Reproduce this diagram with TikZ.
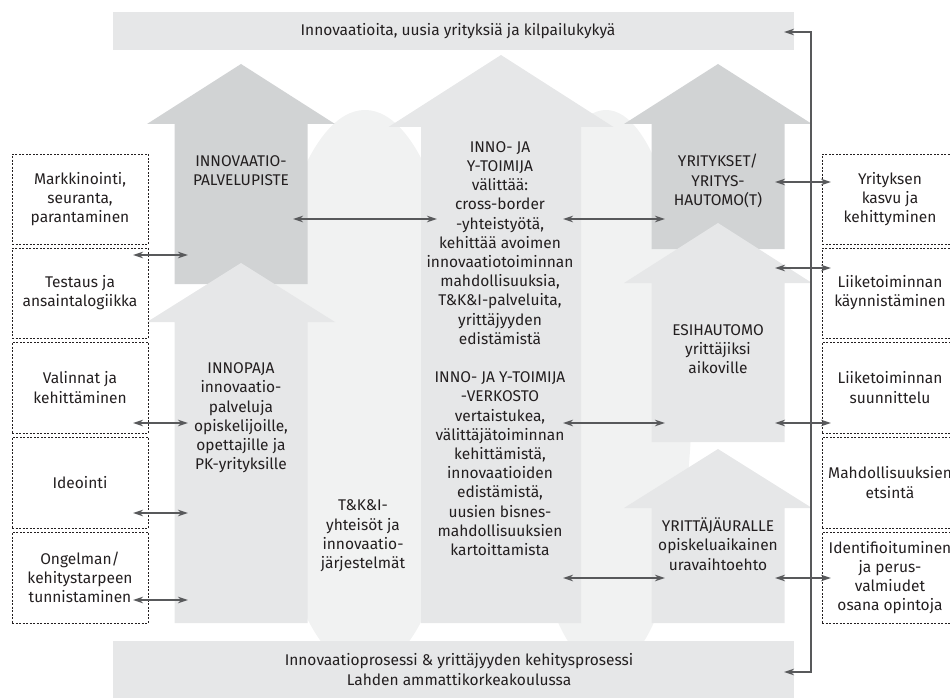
\documentclass[tikz,border=0pt]{standalone}
\usepackage{fontspec}
\setmainfont{Fira Sans}
\usetikzlibrary{arrows.meta}
\definecolor{barc}{HTML}{E6E7E8}
\definecolor{lightc}{HTML}{E6E7E8}
\definecolor{darkc}{HTML}{D1D3D4}
\definecolor{ellc}{HTML}{F1F2F2}
\definecolor{linec}{HTML}{58595B}
\definecolor{txtc}{HTML}{231F20}
\newcommand\bigarr[7]{%
  \fill[#7] (#1,#2) -- ({#1+#4},#3) -- ({#1+#5},#3) -- ({#1+#5},#6) -- ({#1-#5},#6) -- ({#1-#5},#3) -- ({#1-#4},#3) -- cycle;}
\begin{document}
\begin{tikzpicture}[x=1pt,y=-1pt,
  font=\fontsize{15.5}{19.2}\selectfont,
  lbl/.style={align=center,inner sep=0pt,text=txtc},
  dbox/.style={draw=txtc,dash pattern=on 2pt off 1.5pt,line width=0.9pt,minimum width=136pt,align=center,text=txtc,inner sep=0pt},
  conn/.style={draw=linec,line width=1.8pt,{Stealth[length=10pt,width=6.5pt]}-{Stealth[length=10pt,width=6.5pt]}}]
\useasboundingbox (0,0) rectangle (950,698);
\clip (0,0) rectangle (950,698);
% ellipses
\fill[ellc] (365,390) ellipse [x radius=100, y radius=280];
\fill[ellc] (606,390) ellipse [x radius=86, y radius=280];
% big arrows
\bigarr{241}{64}{124}{94}{66.5}{284}{darkc}
\bigarr{241}{263}{322}{94}{66.5}{623}{lightc}
\bigarr{501}{55}{127}{112.5}{80}{623}{lightc}
\bigarr{718}{64}{124}{94}{66.5}{249}{darkc}
\bigarr{718}{223}{283}{94}{66.5}{442}{lightc}
\bigarr{718}{449}{508}{94}{66.5}{623}{lightc}
% bars
\fill[barc] (113,12) rectangle (794,50);
\fill[barc] (113,641) rectangle (794,698);
\node[lbl] (top) at (458,31) {Innovaatioita, uusia yrityksiä ja kilpailukykyä};
\node[lbl] (bot) at (459,669.5) {Innovaatioprosessi \& yrittäjyyden kehitysprosessi\\Lahden ammattikorkeakoulussa};
% arrow texts
\node[lbl] (ipp) at (241,171) {INNOVAATIO-\\PALVELUPISTE};
\node[lbl] (innopaja) at (241,418) {INNOPAJA\\innovaatio-\\palveluja\\opiskelijoille,\\opettajille ja\\PK-yrityksille};
\node[lbl] (tki) at (363,536) {T\&K\&I-\\yhteisöt ja\\innovaatio-\\järjestelmät};
\node[lbl] (mid) at (500,348.5) {INNO- JA\\Y-TOIMIJA\\välittää:\\cross-border\\-yhteistyötä,\\kehittää avoimen\\innovaatiotoiminnan\\mahdollisuuksia,\\T\&K\&I-palveluita,\\yrittäjyyden\\edistämistä\\[19.2pt]INNO- JA Y-TOIMIJA\\-VERKOSTO\\vertaistukea,\\välittäjätoiminnan\\kehittämistä,\\innovaatioiden\\edistämistä,\\uusien bisnes-\\mahdollisuuksien\\kartoittamista};
\node[lbl] (yrit) at (718,181) {YRITYKSET/\\YRITYS-\\HAUTOMO(T)};
\node[lbl] (esi) at (718,349) {ESIHAUTOMO\\yrittäjiksi\\aikoville};
\node[lbl] (ura) at (718,544) {YRITTÄJÄURALLE\\opiskeluaikainen\\uravaihtoehto};
% left boxes
\node[dbox,minimum height=90pt] (l1) at (80,199) {Markkinointi,\\seuranta,\\parantaminen};
\node[dbox,minimum height=90pt] (l2) at (80,293) {Testaus ja\\ansaintalogiikka};
\node[dbox,minimum height=91pt] (l3) at (80,387.5) {Valinnat ja\\kehittäminen};
\node[dbox,minimum height=91pt] (l4) at (80,482.5) {Ideointi};
\node[dbox,minimum height=91pt] (l5) at (80,577.5) {Ongelman/\\kehitystarpeen\\tunnistaminen};
% right boxes
\node[dbox,minimum height=90pt] (r1) at (890,199) {Yrityksen\\kasvu ja\\kehittyminen};
\node[dbox,minimum height=90pt] (r2) at (890,293) {Liiketoiminnan\\käynnistäminen};
\node[dbox,minimum height=91pt] (r3) at (890,387.5) {Liiketoiminnan\\suunnittelu};
\node[dbox,minimum height=91pt] (r4) at (890,482.5) {Mahdollisuuksien\\etsintä};
\node[dbox,minimum height=91pt] (r5) at (890,577.5) {Identifioituminen\\ja perus-\\valmiudet\\osana opintoja};
% connector end points
\coordinate (la1) at (133,255); \coordinate (lb1) at (188,255);
\coordinate (la2) at (133,423); \coordinate (lb2) at (188,423);
\coordinate (la3) at (133,513); \coordinate (lb3) at (188,513);
\coordinate (la4) at (133,600); \coordinate (lb4) at (188,600);
\coordinate (ma1) at (293,219); \coordinate (mb1) at (437,219);
\coordinate (ma2) at (563,219); \coordinate (mb2) at (665,219);
\coordinate (ma3) at (563,423); \coordinate (mb3) at (665,423);
\coordinate (ma4) at (563,578); \coordinate (mb4) at (665,578);
\coordinate (ra1) at (775,182); \coordinate (rb1) at (831,182);
\coordinate (ra2) at (775,268); \coordinate (rb2) at (831,268);
\coordinate (ra3) at (775,423); \coordinate (rb3) at (831,423);
\coordinate (ra4) at (775,578); \coordinate (rb4) at (831,578);
\coordinate (vt) at (784,32); \coordinate (vb) at (784,672);
\coordinate (vx1) at (811,32); \coordinate (vx2) at (811,672);
\foreach \a/\b in {la1/lb1,la2/lb2,la3/lb3,la4/lb4,ma1/mb1,ma2/mb2,ma3/mb3,ma4/mb4,ra1/rb1,ra2/rb2,ra3/rb3,ra4/rb4}
  \draw[conn] (\a) -- (\b);
\draw[conn] (vt) -- (vx1) -- (vx2) -- (vb);
\end{tikzpicture}
\end{document}
